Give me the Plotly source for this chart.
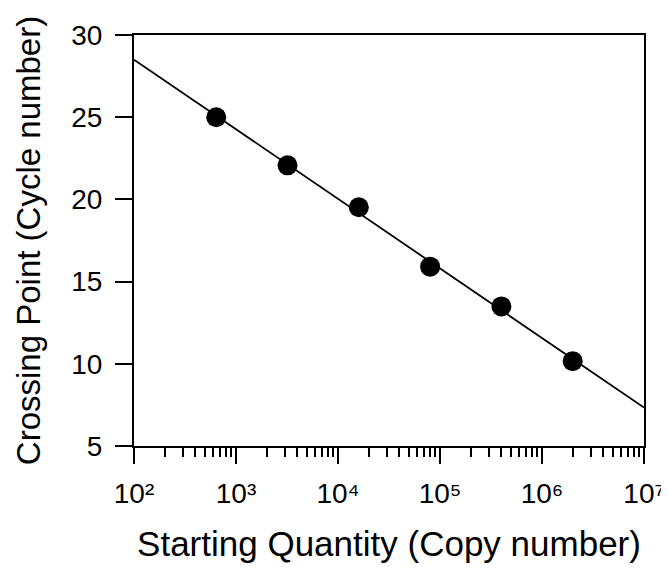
import numpy as np
import plotly.graph_objects as go

# Data: starting quantity (copy number) and crossing point (cycle number)
copy_number = [640, 3200, 16000, 80000, 400000, 2000000]
crossing_point = [25.0, 22.07, 19.52, 15.91, 13.49, 10.16]

x_tickvals = [1e2, 1e3, 1e4, 1e5, 1e6, 1e7]
x_ticktext = ["10²", "10³", "10⁴", "10⁵", "10⁶", "10⁷"]
y_tickvals = [5, 10, 15, 20, 25, 30]

# Standard curve: least-squares fit of crossing point vs log10(copy number)
logx = np.log10(copy_number)
slope, intercept = np.polyfit(logx, crossing_point, 1)
fit_x = np.array([x_tickvals[0], x_tickvals[-1]])
fit_y = intercept + slope * np.log10(fit_x)

FONT = "Liberation Sans, Arial, sans-serif"

fig = go.Figure()
fig.add_trace(go.Scatter(x=fit_x, y=fit_y, mode="lines",
                         line=dict(color="black", width=1.8),
                         showlegend=False, hoverinfo="skip"))
fig.add_trace(go.Scatter(x=copy_number, y=crossing_point, mode="markers",
                         marker=dict(color="black", size=20, line=dict(width=0)),
                         showlegend=False))

# the page body adds an 8px offset, compensated in the margins
fig.update_layout(
    width=669, height=570,
    margin=dict(l=126, r=32, t=18, b=132),
    paper_bgcolor="white", plot_bgcolor="white",
    font=dict(family=FONT, color="black", size=28),
)
fig.update_xaxes(
    type="log", range=[2, 7],
    tickvals=x_tickvals, ticktext=x_ticktext,
    ticks="outside", ticklen=16, tickwidth=1.8, tickcolor="black",
    minor=dict(ticks="outside", ticklen=9, tickwidth=1.5, tickcolor="black",
               dtick="D1", showgrid=False),
    showline=True, linecolor="black", linewidth=2, mirror=True,
    showgrid=False, zeroline=False,
    tickfont=dict(size=28, family=FONT), ticklabelstandoff=5,
    title=dict(text="Starting Quantity (Copy number)", font=dict(size=35, family=FONT), standoff=24),
)
fig.update_yaxes(
    range=[5, 30], tickvals=y_tickvals,
    ticks="outside", ticklen=17, tickwidth=1.8, tickcolor="black",
    showline=True, linecolor="black", linewidth=2, mirror=True,
    showgrid=False, zeroline=False,
    tickfont=dict(size=28, family=FONT), ticklabelstandoff=7,
    title=dict(text="Crossing Point (Cycle number)", font=dict(size=33, family=FONT), standoff=21),
)

fig.write_html("out.html")
